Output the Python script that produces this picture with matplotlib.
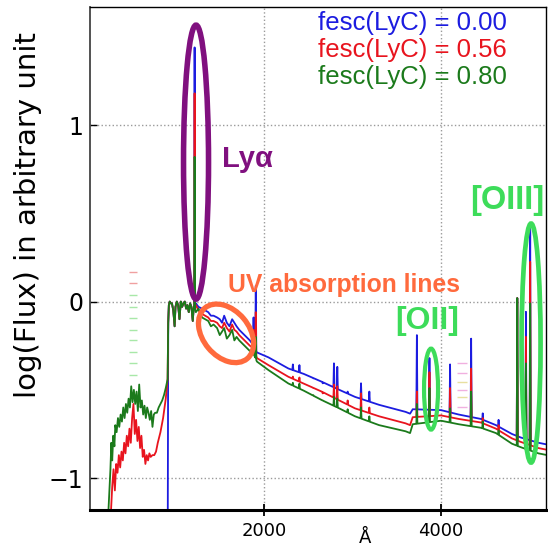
import numpy as np
import matplotlib
matplotlib.use('Agg')
import matplotlib.pyplot as plt
from matplotlib.patches import Ellipse
from matplotlib.transforms import ScaledTranslation

# Spectra: wavelength in Å, log(flux)
# ionising part (below the Lyman limit), only red and green have flux there
red_fuv_wave = [270, 285, 300, 315, 330, 345, 360, 375, 390, 405, 420, 435, 450, 465,
                480, 495, 510, 525, 540, 555, 570, 585, 600, 615, 630, 645, 660, 675,
                690, 705, 720, 740, 760, 780, 800, 830, 860, 890, 911]
red_fuv_flux = [-1.2, -1.05, -0.95, -1.07, -0.92, -0.97, -0.87, -0.94, -0.85, -0.90, -0.80,
                -0.86, -0.76, -0.82, -0.72, -0.80, -0.66, -0.58, -0.75, -0.67, -0.79, -0.71,
                -0.83, -0.76, -0.88, -0.84, -0.92, -0.87, -0.90, -0.86, -0.88, -0.87, -0.87,
                -0.85, -0.80, -0.74, -0.66, -0.55, -0.44]
green_fuv_wave = [241, 255, 265, 275, 285, 297, 310, 320, 335, 350, 365, 380, 395, 410, 425,
                  440, 455, 470, 485, 500, 515, 530, 545, 560, 575, 590, 605, 620, 635, 650,
                  665, 680, 695, 710, 725, 740, 755, 770, 790, 810, 830, 850, 870, 890, 911]
green_fuv_flux = [-1.2, -1.05, -0.95, -0.80, -0.90, -0.76, -0.82, -0.70, -0.74, -0.66, -0.71,
                  -0.64, -0.68, -0.60, -0.66, -0.58, -0.63, -0.55, -0.60, -0.48, -0.57, -0.50,
                  -0.58, -0.51, -0.62, -0.47, -0.60, -0.56, -0.64, -0.59, -0.66, -0.60, -0.63,
                  -0.67, -0.62, -0.71, -0.64, -0.63, -0.63, -0.60, -0.58, -0.56, -0.53, -0.49,
                  -0.44]

# 912-1216 Å plateau (the three models overlap)
plateau_wave = [918, 925, 935, 945, 960, 975, 990, 1000, 1015, 1030, 1045, 1060, 1075, 1090,
                1105, 1120, 1135, 1150, 1165, 1180, 1195, 1205, 1212]
plateau_flux = [-0.12, -0.02, 0.0, -0.01, -0.01, -0.05, -0.14, -0.03, 0.0, -0.02, -0.10, 0.0,
                -0.03, -0.01, 0.0, -0.04, -0.02, -0.06, -0.01, -0.03, -0.11, -0.04, -0.02]

# UV continuum with absorption lines
uv_wave = [1230, 1260, 1300, 1335, 1370, 1400, 1430, 1470, 1500, 1526, 1550, 1580, 1610,
           1640, 1665, 1690, 1720, 1760, 1800, 1840, 1870, 1895]
uv_blue = [-0.01, -0.03, -0.04, -0.05, -0.06, -0.08, -0.08, -0.09, -0.10, -0.12, -0.08, -0.12,
           -0.14, -0.10, -0.12, -0.14, -0.16, -0.18, -0.20, -0.22, -0.24, -0.26]
uv_red = [-0.02, -0.05, -0.07, -0.08, -0.09, -0.11, -0.11, -0.12, -0.14, -0.15, -0.12, -0.15,
          -0.17, -0.13, -0.16, -0.17, -0.19, -0.21, -0.23, -0.25, -0.26, -0.28]
uv_green = [-0.06, -0.04, -0.09, -0.10, -0.11, -0.14, -0.13, -0.15, -0.19, -0.17, -0.15, -0.21,
            -0.19, -0.16, -0.22, -0.20, -0.22, -0.24, -0.26, -0.28, -0.29, -0.31]

# near-UV / optical continuum
opt_wave = [1920, 2050, 2275, 2450, 2652, 2850, 3028, 3300, 3600, 3650, 3680, 4000, 4200,
            4450, 4620, 4800, 4900, 5100, 5200]
opt_blue = [-0.288, -0.316, -0.379, -0.41, -0.454, -0.50, -0.54, -0.585, -0.625, -0.635,
            -0.61, -0.615, -0.64, -0.665, -0.70, -0.75, -0.77, -0.80, -0.81]
opt_red = [-0.32, -0.36, -0.426, -0.465, -0.51, -0.56, -0.605, -0.65, -0.69, -0.70, -0.655,
           -0.645, -0.665, -0.685, -0.72, -0.775, -0.795, -0.83, -0.84]
opt_green = [-0.34, -0.388, -0.464, -0.505, -0.558, -0.605, -0.65, -0.70, -0.735, -0.745,
             -0.695, -0.675, -0.695, -0.715, -0.745, -0.805, -0.825, -0.86, -0.87]

# emission lines: peak log(flux) for each model
line_wave = [1216, 1882, 1907, 2326, 2400, 2557, 2663, 2790, 2828, 2945, 3096, 3190, 3727,
             3869, 4102, 4340, 4471, 4650, 4861, 4959, 5007]
line_blue = [1.44, -0.09, 0.09, -0.356, -0.36, -0.435, -0.463, -0.35, -0.37, -0.51, -0.463,
             -0.51, -0.19, -0.32, -0.356, -0.21, -0.633, -0.67, 0.02, -0.058, 0.424]
line_red = [1.18, -0.16, -0.06, -0.425, -0.43, -0.49, -0.52, -0.47, -0.48, -0.56, -0.52,
            -0.60, -0.51, -0.40, -0.49, -0.38, -0.66, -0.70, 0.02, -0.20, 0.225]
line_green = [0.82, -0.24, -0.20, -0.46, -0.465, -0.53, -0.56, -0.54, -0.55, -0.61, -0.60,
              -0.65, -0.58, -0.49, -0.605, -0.51, -0.68, -0.73, 0.02, -0.35, -0.01]

# faint short dashes visible in the original plot
dash1_flux = [0.169, 0.103, 0.037, -0.029, -0.095, -0.161, -0.218, -0.284, -0.35, -0.416]
dash1_color = ['#f0a0a0'] * 2 + ['#a8e8a8'] * 8
dash2_flux = [-0.35, -0.405, -0.456, -0.50, -0.54, -0.60]
dash2_color = ['#f0b0e0', '#f0b0e0', '#e8e0a0', '#f0b0e0', '#e8e0a0', '#f0b0e0']

labels = ['fesc(LyC) = 0.00', 'fesc(LyC) = 0.56', 'fesc(LyC) = 0.80']
colors = ['#1c1ce0', '#e8141e', '#1b7a1b']


def with_lines(wave, flux, peaks, hw=6):
    wave = np.asarray(wave, float)
    flux = np.asarray(flux, float)
    lw = np.asarray(line_wave, float)
    w = np.concatenate([wave, lw - hw, lw, lw + hw])
    f = np.concatenate([flux, np.interp(lw - hw, wave, flux), peaks,
                        np.interp(lw + hw, wave, flux)])
    o = np.argsort(w, kind='stable')
    return w[o], f[o]


blue = with_lines([912] + plateau_wave + uv_wave + opt_wave,
                  [-1.4] + plateau_flux + uv_blue + opt_blue, line_blue)
red = with_lines(red_fuv_wave + plateau_wave + uv_wave + opt_wave,
                 red_fuv_flux + plateau_flux + uv_red + opt_red, line_red)
green = with_lines(green_fuv_wave + plateau_wave + uv_wave + opt_wave,
                   green_fuv_flux + plateau_flux + uv_green + opt_green, line_green)

fig = plt.figure(figsize=(5.48, 5.47), dpi=100)
ax = fig.add_axes([0.1642, 0.0676, 0.8322, 0.9196])

ax.hlines(dash1_flux, 480, 560, colors=dash1_color, lw=1)
ax.hlines(dash2_flux, 4180, 4290, colors=dash2_color, lw=1)

for (w, f), c in zip([blue, red, green], colors):
    ax.plot(w, f, color=c, lw=1.3)

ax.set_xlim(34, 5186)
ax.set_ylim(-1.181, 1.669)
ax.set_xticks([2000, 4000])
ax.set_yticks([-1, 0, 1])
ax.grid(True, linestyle=':', color='#9a9a9a', linewidth=1)
ax.tick_params(axis='x', direction='inout', length=9, width=1.3, labelsize=13, pad=4)
ax.tick_params(axis='y', direction='in', length=5, width=1, labelsize=17, pad=5)
ax.spines['bottom'].set_linewidth(2.2)
ax.spines['left'].set_linewidth(1.3)
ax.spines['left'].set_color('#444444')
ax.spines['top'].set_linewidth(1.0)
ax.spines['right'].set_linewidth(1.0)

ax.set_ylabel('log(Flux) in arbitrary unit', fontsize=21)
ax.yaxis.set_label_coords(-0.105, 0.586)
ax.set_xlabel('Å', fontsize=13)
ax.xaxis.set_label_coords(0.603, -0.038)

# legend as coloured text
for i, (lab, c) in enumerate(zip(labels, colors)):
    ax.text(4746, 1.578 - 0.153 * i, lab, color=c, ha='right', va='center',
            fontsize=18.5, family='Liberation Sans')


def ring(cx, cy, w_px, h_px, angle, color, lw):
    tr = fig.dpi_scale_trans + ScaledTranslation(cx, cy, ax.transData)
    ax.add_patch(Ellipse((0, 0), w_px / 100, h_px / 100, angle=angle, transform=tr,
                         fill=False, ec=color, lw=lw, zorder=5))


purple = '#80107f'
orange = '#ff6a3d'
lime = '#3ddc5a'

ring(1232, 0.79, 25, 274, 0, purple, 4.0)
ring(1571, -0.18, 66, 46, -50, orange, 3.8)
ring(3887, -0.496, 14, 81, 0, lime, 3.0)
ring(5017, -0.235, 19, 239, 0, lime, 3.4)

bold = dict(family='Liberation Sans', fontweight='bold', va='center', ha='left')
ax.text(1525, 0.807, 'Lyα', color=purple, fontsize=21, **bold)
ax.text(1593, 0.093, 'UV absorption lines', color=orange, fontsize=17.8, **bold)
ax.text(3480, -0.11, '[OII]', color=lime, fontsize=23, **bold)
ax.text(4328, 0.575, '[OIII]', color=lime, fontsize=23.5, **bold)

fig.savefig('out.png', dpi=100)
